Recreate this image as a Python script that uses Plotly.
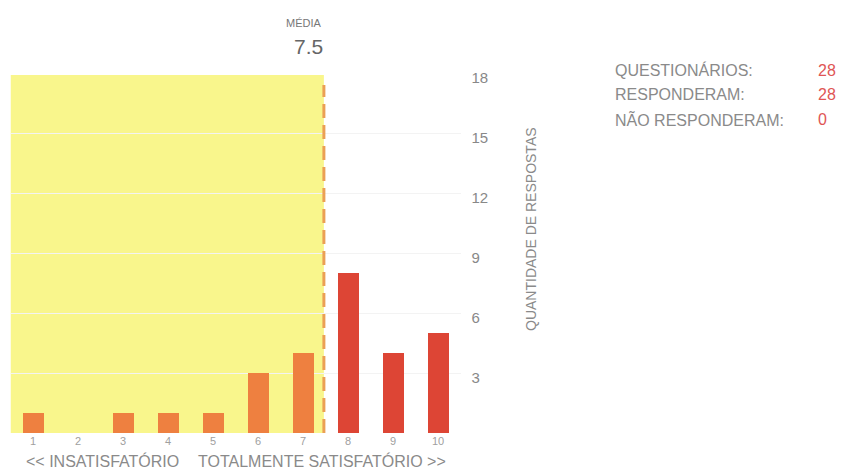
import plotly.graph_objects as go

# Data
notas = [1, 2, 3, 4, 5, 6, 7, 8, 9, 10]
respostas = [1, 0, 1, 1, 1, 3, 4, 8, 4, 5]
cores = ['#EE8040'] * 7 + ['#DD4535'] * 3
y_ticks = [3, 6, 9, 12, 15, 18]
stat_labels = ['QUESTIONÁRIOS:', 'RESPONDERAM:', 'NÃO RESPONDERAM:']
stat_values = [28, 28, 0]

media = sum(n * r for n, r in zip(notas, respostas)) / sum(respostas)

# the page body has an 8px margin, so the figure is drawn 8px in from the corner
OFF = 8
W, H = 848 - OFF, 475 - OFF
FONT = 'Liberation Sans, Arial, sans-serif'


def px(x):
    return (x - OFF) / W


def py(y):
    return 1 - (y - OFF) / H


fig = go.Figure()
fig.add_trace(go.Bar(
    x=notas, y=respostas,
    marker=dict(color=cores, line=dict(width=0)),
    width=0.48,
    showlegend=False,
))

# yellow zone below the mean, and dashed mean line
fig.add_shape(type='rect', xref='x', yref='y', x0=0.5, x1=media, y0=0, y1=17.9,
              fillcolor='#F9F68C', line=dict(width=0), layer='below')
fig.add_shape(type='line', xref='x', yref='y', x0=media, x1=media, y0=0, y1=17.4,
              line=dict(color='#EBA055', width=3, dash='14px,7px'))

annotations = [
    dict(text='MÉDIA', x=px(324), y=py(23), xanchor='right', yanchor='middle',
         font=dict(size=11, color='#777777')),
    dict(text=f'{media:.1f}', x=px(325), y=py(47), xanchor='right', yanchor='middle',
         font=dict(size=21, color='#666666')),
    dict(text='<< INSATISFATÓRIO', x=px(24), y=py(461), xanchor='left', yanchor='middle',
         font=dict(size=16, color='#8a8a8a')),
    dict(text='TOTALMENTE SATISFATÓRIO >>', x=px(448), y=py(461), xanchor='right', yanchor='middle',
         font=dict(size=16, color='#8a8a8a')),
    dict(text='QUANTIDADE DE RESPOSTAS', x=px(531), y=py(229), textangle=-90,
         xanchor='center', yanchor='middle', font=dict(size=14, color='#8a8a8a')),
]
for i, (lab, val) in enumerate(zip(stat_labels, stat_values)):
    yy = py(70 + i * 24.5)
    annotations.append(dict(text=lab, x=px(613), y=yy, xanchor='left', yanchor='middle',
                            font=dict(size=16, color='#8a8a8a')))
    annotations.append(dict(text=str(val), x=px(816), y=yy, xanchor='left', yanchor='middle',
                            font=dict(size=16, color='#E05555')))
for a in annotations:
    a.update(xref='paper', yref='paper', showarrow=False)

fig.update_layout(
    width=W, height=H,
    margin=dict(l=0, r=0, t=0, b=0),
    paper_bgcolor='white', plot_bgcolor='white',
    font=dict(family=FONT),
    bargap=0,
    annotations=annotations,
    xaxis=dict(
        domain=[px(10.5), px(460.5)], range=[0.5, 10.5],
        tickvals=notas, ticks='', showgrid=False, zeroline=False, showline=False,
        tickfont=dict(size=11, color='#a0a0a0'), automargin=False,
    ),
    yaxis=dict(
        domain=[py(433), py(73)], range=[0, 18], side='right',
        tickvals=y_ticks, ticks='', showgrid=True, gridcolor='#f3f3f3',
        zeroline=False, showline=False, ticklabelstandoff=10, ticklabelshift=5,
        tickfont=dict(size=15, color='#888888'), automargin=False,
    ),
)

fig.write_html('out.html')
